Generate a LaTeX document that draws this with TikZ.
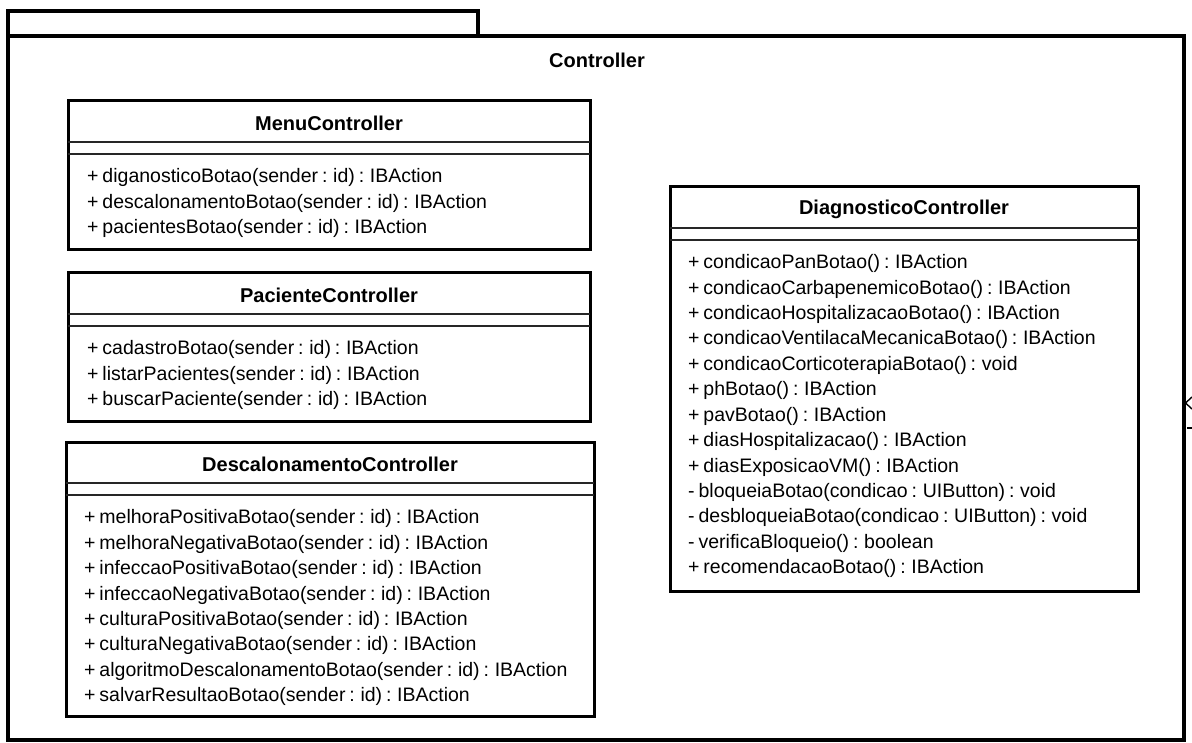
\documentclass[tikz,border=0pt]{standalone}
\usepackage{fontspec}
\setmainfont{Liberation Sans}
\newfontfamily\methodfamily{Liberation Sans}[WordSpace=0.72]
\begin{document}
\begin{tikzpicture}[x=1pt,y=-1pt,
  pkgline/.style={line width=3.4pt,draw=black},
  classbox/.style={draw=black,line width=3pt,fill=white,rectangle,inner sep=0pt,outer sep=0pt,anchor=north west},
  sepline/.style={draw=black!85,line width=1.5pt},
  titletext/.style={font=\fontsize{20}{24}\selectfont\bfseries,inner sep=0pt,anchor=center},
  methodtext/.style={font=\methodfamily\fontsize{19.5}{23}\selectfont,inner sep=0pt,anchor=base west},
  stub/.style={draw=black,line width=1.4pt}]
\useasboundingbox (0,0) rectangle (1192,743);
\fill[white] (0,0) rectangle (1192,743);

% package frame with its tab
\node[draw=black,line width=3.4pt,rectangle,inner sep=0pt,outer sep=0pt,anchor=north west,
      minimum width=1176pt,minimum height=704pt] (pkg) at (8,36) {};
\coordinate (tabtl) at (8,11);
\coordinate (tabtr) at (478,11);
\draw[pkgline] (pkg.north west) -- (tabtl) -- (tabtr) -- (tabtr |- pkg.north);
\node[titletext] (pkgname) at (597,60) {Controller};

% #1 name, #2 left, #3 top, #4 right, #5 bottom, #6 title, #7 text left, #8 methods
\newcommand\umlclassbox[8]{%
  \node[classbox,minimum width={#4-#2},minimum height={#5-#3}] (#1) at (#2,#3) {};
  \node[titletext] (#1-title) at ({(#2+#4)/2},#3+22) {#6};
  \draw[sepline] (#1.west |- 0,#3+41) -- (#1.east |- 0,#3+41);
  \draw[sepline] (#1.west |- 0,#3+53) -- (#1.east |- 0,#3+53);
  \foreach \m [count=\i from 0] in {#8}
    \node[methodtext] (#1-m\i) at (#7,{#3+75+6.8+25.4*\i}) {\m};
}

\umlclassbox{menu}{68}{101}{590}{250}{MenuController}{87}{%
  {+ diganosticoBotao(sender : id) : IBAction},
  {+ descalonamentoBotao(sender : id) : IBAction},
  {+ pacientesBotao(sender : id) : IBAction}}

\umlclassbox{paciente}{68}{273}{590}{421}{PacienteController}{87}{%
  {+ cadastroBotao(sender : id) : IBAction},
  {+ listarPacientes(sender : id) : IBAction},
  {+ buscarPaciente(sender : id) : IBAction}}

\umlclassbox{descal}{66}{442}{594}{716}{DescalonamentoController}{84}{%
  {+ melhoraPositivaBotao(sender : id) : IBAction},
  {+ melhoraNegativaBotao(sender : id) : IBAction},
  {+ infeccaoPositivaBotao(sender : id) : IBAction},
  {+ infeccaoNegativaBotao(sender : id) : IBAction},
  {+ culturaPositivaBotao(sender : id) : IBAction},
  {+ culturaNegativaBotao(sender : id) : IBAction},
  {+ algoritmoDescalonamentoBotao(sender : id) : IBAction},
  {+ salvarResultaoBotao(sender : id) : IBAction}}

\umlclassbox{diag}{670}{187}{1138}{591}{DiagnosticoController}{688}{%
  {+ condicaoPanBotao() : IBAction},
  {+ condicaoCarbapenemicoBotao() : IBAction},
  {+ condicaoHospitalizacaoBotao() : IBAction},
  {+ condicaoVentilacaMecanicaBotao() : IBAction},
  {+ condicaoCorticoterapiaBotao() : void},
  {+ phBotao() : IBAction},
  {+ pavBotao() : IBAction},
  {+ diasHospitalizacao() : IBAction},
  {+ diasExposicaoVM() : IBAction},
  {- bloqueiaBotao(condicao : UIButton) : void},
  {- desbloqueiaBotao(condicao : UIButton) : void},
  {- verificaBloqueio() : boolean},
  {+ recomendacaoBotao() : IBAction}}

% cut-off dependency arrow entering the package from the right
\coordinate (arrtip) at (1185.5,403);
\coordinate (arrup) at (1192,397);
\coordinate (arrdn) at (1192,409);
\draw[stub] (arrup) -- (arrtip) -- (arrdn);
\coordinate (dashl) at (1187,428);
\coordinate (dashr) at (1192,428);
\draw[stub] (dashl) -- (dashr);
\end{tikzpicture}
\end{document}
